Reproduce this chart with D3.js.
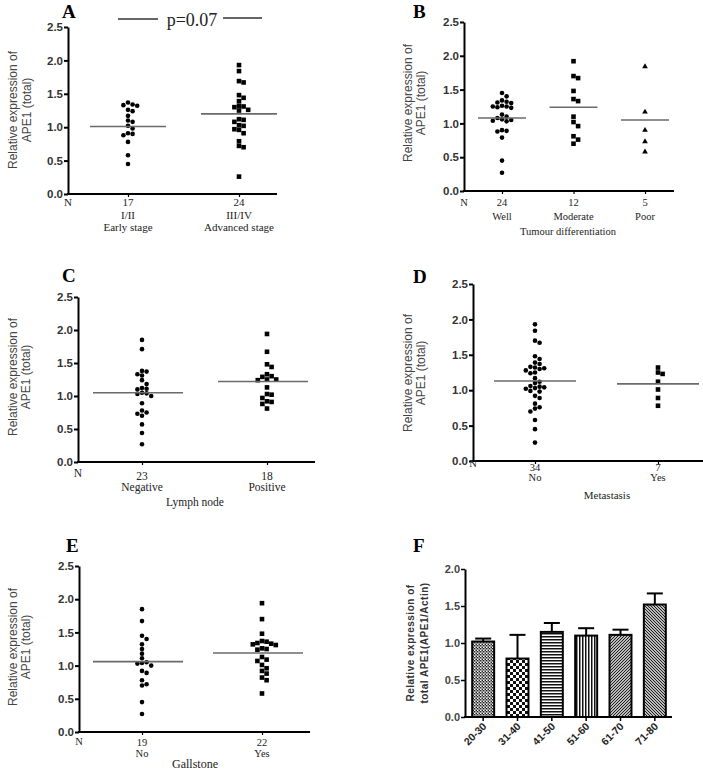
<!DOCTYPE html>
<html><head><meta charset="utf-8">
<script src="https://cdn.jsdelivr.net/npm/d3@7"></script>
<style>body{margin:0;background:#fff}</style>
</head><body><svg id="c" width="703" height="770"></svg>
<script>
// ---------- DATA ----------
const yTicks = [0, 0.5, 1.0, 1.5, 2.0, 2.5];
const fTicks = [0, 0.5, 1.0, 1.5, 2.0];

const aCategories = ["I/II", "III/IV"];
const aSublabels = ["Early stage", "Advanced stage"];
const aN = [17, 24];
const aEarly = [1.37, 1.34, 1.33, 1.32, 1.26, 1.24, 1.17, 1.10, 1.08, 1.02, 0.98, 0.91, 0.90, 0.88, 0.78, 0.58, 0.45];
const aAdvanced = [1.93, 1.84, 1.69, 1.67, 1.48, 1.44, 1.39, 1.32, 1.31, 1.30, 1.26, 1.25, 1.12, 1.11, 1.08, 1.03, 1.02, 0.97, 0.96, 0.91, 0.79, 0.72, 0.70, 0.26];
const aMeans = [1.01, 1.20];
const aPText = "p=0.07";

const bCategories = ["Well", "Moderate", "Poor"];
const bN = [24, 12, 5];
const bWell = [1.45, 1.40, 1.34, 1.32, 1.31, 1.30, 1.26, 1.25, 1.25, 1.24, 1.23, 1.13, 1.10, 1.08, 1.06, 1.05, 1.04, 1.03, 0.90, 0.89, 0.88, 0.79, 0.45, 0.27];
const bModerate = [1.92, 1.70, 1.67, 1.48, 1.36, 1.33, 1.10, 1.02, 0.96, 0.81, 0.76, 0.70];
const bPoor = [1.84, 1.17, 0.90, 0.73, 0.58];
const bMeans = [1.08, 1.24, 1.05];

const cCategories = ["Negative", "Positive"];
const cN = [23, 18];
const cNegative = [1.85, 1.71, 1.38, 1.37, 1.33, 1.31, 1.24, 1.18, 1.12, 1.11, 1.10, 1.05, 1.04, 1.03, 1.00, 0.89, 0.78, 0.75, 0.73, 0.70, 0.57, 0.44, 0.27];
const cPositive = [1.94, 1.67, 1.48, 1.44, 1.33, 1.30, 1.29, 1.25, 1.25, 1.24, 1.13, 1.03, 1.02, 0.97, 0.92, 0.91, 0.88, 0.81];
const cMeans = [1.05, 1.22];

const dCategories = ["No", "Yes"];
const dN = [34, 7];
const dNo = [1.93, 1.84, 1.70, 1.67, 1.48, 1.44, 1.39, 1.37, 1.33, 1.32, 1.31, 1.30, 1.28, 1.25, 1.24, 1.17, 1.12, 1.10, 1.06, 1.05, 1.04, 1.03, 1.02, 0.99, 0.98, 0.92, 0.89, 0.81, 0.76, 0.74, 0.70, 0.58, 0.45, 0.26];
const dYes = [1.32, 1.25, 1.23, 1.12, 1.01, 0.89, 0.78];
const dMeans = [1.13, 1.09];

const eCategories = ["No", "Yes"];
const eN = [19, 22];
const eNo = [1.85, 1.67, 1.45, 1.40, 1.32, 1.25, 1.18, 1.11, 1.05, 1.04, 1.03, 1.00, 0.92, 0.89, 0.78, 0.72, 0.70, 0.45, 0.27];
const eYes = [1.94, 1.70, 1.48, 1.37, 1.36, 1.34, 1.33, 1.32, 1.31, 1.26, 1.25, 1.24, 1.13, 1.09, 1.07, 1.01, 0.96, 0.92, 0.88, 0.82, 0.78, 0.58];
const eMeans = [1.06, 1.19];

const fCategories = ["20-30", "31-40", "41-50", "51-60", "61-70", "71-80"];
const fMeans = [1.02, 0.79, 1.15, 1.10, 1.11, 1.52];
const fErrors = [0.04, 0.32, 0.12, 0.10, 0.07, 0.15];

// ---------- RENDER ----------
const SANS = "'Liberation Sans', Arial, sans-serif";
const SERIF = "'Liberation Serif', 'Times New Roman', serif";
const svg = d3.select("#c");

function yTitle(g, lines, x1, x2, cy, opts) {
  [x1, x2].forEach((x, i) => {
    g.append("text")
      .attr("transform", `translate(${x},${cy}) rotate(-90)`)
      .attr("text-anchor", "middle").attr("dominant-baseline", "central")
      .attr("font-family", SANS).attr("font-size", opts.size)
      .attr("font-weight", opts.weight || "normal")
      .attr("letter-spacing", opts.ls || 0)
      .attr("fill", opts.color || "#444")
      .text(lines[i]);
  });
}

function marker(g, shape, cx, cy) {
  if (shape === "circle") {
    g.append("circle").attr("cx", cx).attr("cy", cy).attr("r", 2.3).attr("fill", "#000");
  } else if (shape === "square") {
    g.append("rect").attr("x", cx - 2.3).attr("y", cy - 2.3).attr("width", 4.6).attr("height", 4.6).attr("fill", "#000");
  } else {
    g.append("path").attr("d", d3.symbol(d3.symbolTriangle, 14)()).attr("transform", `translate(${cx},${cy})`).attr("fill", "#000");
  }
}

function swarm(values, y, step) {
  const placed = [];
  const sorted = values.map((v, i) => ({ v, i })).sort((a, b) => b.v - a.v);
  sorted.forEach(d => {
    const py = y(d.v);
    for (let k = 0; k < 40; k++) {
      const off = k === 0 ? 0 : (k % 2 ? 1 : -1) * Math.ceil(k / 2) * step;
      const ok = placed.every(p => Math.hypot(p.dx - off, p.py - py) >= step * 0.98);
      if (ok) { placed.push({ v: d.v, dx: off, py }); break; }
    }
  });
  return placed;
}

function scatterPanel(p) {
  const g = svg.append("g");
  const y = d3.scaleLinear().domain([0, 2.5]).range([p.yBot, p.yTop]);
  const x = d3.scalePoint().domain(p.categories).range(p.catRange);

  // panel letter
  g.append("text").attr("x", p.letter[0]).attr("y", p.letter[1])
    .attr("font-family", SERIF).attr("font-weight", "bold").attr("font-size", 19).text(p.name);

  // y axis
  const ay = g.append("g").attr("transform", `translate(${p.x0},0)`)
    .call(d3.axisLeft(y).tickValues(yTicks).tickFormat(d3.format(".1f")).tickSize(4).tickSizeOuter(0));
  ay.select(".domain").attr("stroke", "#000").attr("stroke-width", 2);
  ay.selectAll(".tick line").attr("stroke", "#000").attr("stroke-width", 2);
  ay.selectAll(".tick text").attr("font-family", SANS).attr("font-weight", "bold")
    .attr("font-size", 11.5).attr("fill", "#333").attr("x", -5);

  // x axis line
  g.append("line").attr("x1", p.x0 - 1).attr("x2", p.x1).attr("y1", y(0)).attr("y2", y(0))
    .attr("stroke", "#000").attr("stroke-width", 2);
  const axb = g.append("g").attr("transform", `translate(0,${y(0)})`)
    .call(d3.axisBottom(x).tickSize(3).tickFormat(""));
  axb.select(".domain").remove();
  axb.selectAll(".tick line").attr("stroke", "#000").attr("stroke-width", 1.2);

  yTitle(g, ["Relative expression of", "APE1 (total)"], p.yt[0], p.yt[1], p.yt[2], { size: 12 });

  // N label + counts + category labels
  const tf = (sel, size) => sel.attr("font-family", SERIF).attr("font-size", size).attr("fill", "#222").attr("text-anchor", "middle");
  tf(g.append("text").attr("x", p.x0).attr("y", p.rows.n), p.fs).text("N");
  p.categories.forEach((c, i) => {
    tf(g.append("text").attr("x", x(c)).attr("y", p.rows.count), p.fs).text(p.counts[i]);
    tf(g.append("text").attr("x", x(c)).attr("y", p.rows.cat), p.fs).text(c);
    if (p.sublabels) tf(g.append("text").attr("x", x(c)).attr("y", p.rows.sub), p.fs).text(p.sublabels[i]);
  });
  if (p.title) tf(g.append("text").attr("x", p.title.x).attr("y", p.title.y), p.title.size).text(p.title.text);

  // dots
  p.series.forEach((vals, i) => {
    const cx = x(p.categories[i]);
    swarm(vals, y, 4.6).forEach(d => marker(g, p.shapes[i], cx + d.dx, d.py));
  });
  // means
  p.means.forEach((m, i) => {
    const cx = x(p.categories[i]) + (p.meanShift || 0);
    g.append("line").attr("x1", cx - p.hw).attr("x2", cx + p.hw).attr("y1", y(m)).attr("y2", y(m))
      .attr("stroke", "#6a6a6a").attr("stroke-width", 1.6);
  });
  return { g, x, y };
}

// Panel A
const A = scatterPanel({
  name: "A", letter: [62, 18], x0: 68, x1: 277, yTop: 27, yBot: 194, catRange: [128, 239],
  categories: aCategories, sublabels: aSublabels, counts: aN, series: [aEarly, aAdvanced],
  shapes: ["circle", "square"], means: aMeans, hw: 38,
  yt: [13, 27, 110], rows: { n: 206, count: 206, cat: 219, sub: 231 }, fs: 11
});
// p-value annotation
A.g.append("line").attr("x1", 118).attr("x2", 158).attr("y1", 19).attr("y2", 19).attr("stroke", "#333").attr("stroke-width", 1.4);
A.g.append("line").attr("x1", 223).attr("x2", 262).attr("y1", 18).attr("y2", 18).attr("stroke", "#333").attr("stroke-width", 1.4);
A.g.append("text").attr("x", 192).attr("y", 26).attr("text-anchor", "middle")
  .attr("font-family", SERIF).attr("font-size", 18).attr("fill", "#222").text(aPText);

// Panel B
scatterPanel({
  name: "B", letter: [413, 18], x0: 464, x1: 674, yTop: 22, yBot: 191, catRange: [502, 645],
  categories: bCategories, counts: bN, series: [bWell, bModerate, bPoor],
  shapes: ["circle", "square", "triangle"], means: bMeans, hw: 24,
  yt: [408, 421, 103], rows: { n: 206, count: 206, cat: 220 }, fs: 10.5,
  title: { text: "Tumour differentiation", x: 568, y: 235, size: 10.5 }
});

// Panel C
scatterPanel({
  name: "C", letter: [62, 282], x0: 78, x1: 315, yTop: 297, yBot: 462, catRange: [142, 267],
  categories: cCategories, counts: cN, series: [cNegative, cPositive],
  shapes: ["circle", "square"], means: cMeans, hw: 45, meanShift: -4,
  yt: [13, 26, 377], rows: { n: 477, count: 480, cat: 491 }, fs: 11.5,
  title: { text: "Lymph node", x: 195, y: 506, size: 11.5 }
});

// Panel D
scatterPanel({
  name: "D", letter: [413, 283], x0: 473, x1: 703, yTop: 284, yBot: 461, catRange: [535, 658],
  categories: dCategories, counts: dN, series: [dNo, dYes],
  shapes: ["circle", "square"], means: dMeans, hw: 41,
  yt: [408, 421, 373], rows: { n: 467, count: 471, cat: 481 }, fs: 10.5,
  title: { text: "Metastasis", x: 607, y: 499, size: 11 }
});

// Panel E
scatterPanel({
  name: "E", letter: [66, 552], x0: 79, x1: 310, yTop: 566, yBot: 732, catRange: [142, 262],
  categories: eCategories, counts: eN, series: [eNo, eYes],
  shapes: ["circle", "square"], means: eMeans, hw: 45, meanShift: -4,
  yt: [13, 26, 647], rows: { n: 745, count: 746, cat: 757 }, fs: 10.5,
  title: { text: "Gallstone", x: 195, y: 768, size: 12 }
});

// Panel F
(function () {
  const g = svg.append("g");
  const defs = svg.append("defs");
  const pat = (id, w, h, draw) => {
    const p = defs.append("pattern").attr("id", id).attr("patternUnits", "userSpaceOnUse").attr("width", w).attr("height", h);
    p.append("rect").attr("width", w).attr("height", h).attr("fill", "#fff");
    draw(p);
  };
  pat("p0", 3, 3, p => { p.append("rect").attr("width", 1.5).attr("height", 1.5).attr("fill", "#222"); p.append("rect").attr("x", 1.5).attr("y", 1.5).attr("width", 1.5).attr("height", 1.5).attr("fill", "#222"); p.append("rect").attr("x", 1.5).attr("width", 1.5).attr("height", 1.5).attr("fill", "#999"); });
  pat("p1", 6, 6, p => { p.append("rect").attr("width", 3).attr("height", 3).attr("fill", "#111"); p.append("rect").attr("x", 3).attr("y", 3).attr("width", 3).attr("height", 3).attr("fill", "#111"); });
  pat("p2", 3, 3, p => { p.append("rect").attr("width", 3).attr("height", 1.5).attr("fill", "#111"); });
  pat("p3", 3, 3, p => { p.append("rect").attr("width", 1.5).attr("height", 3).attr("fill", "#111"); });
  pat("p4", 3, 3, p => { p.append("path").attr("d", "M-1,1 l2,-2 M0,3 l3,-3 M2,4 l2,-2").attr("stroke", "#111").attr("stroke-width", 1.1); });
  pat("p5", 3, 3, p => { p.append("path").attr("d", "M-1,2 l2,2 M0,0 l3,3 M2,-1 l2,2").attr("stroke", "#111").attr("stroke-width", 1.1); });

  const y = d3.scaleLinear().domain([0, 2.0]).range([717, 569]);
  const x = d3.scaleBand().domain(fCategories).range([466, 672]).paddingInner(0.36).paddingOuter(0.18);

  g.append("text").attr("x", 413).attr("y", 552).attr("font-family", SERIF).attr("font-weight", "bold").attr("font-size", 19).text("F");

  // error bars
  fCategories.forEach((c, i) => {
    const cx = x(c) + x.bandwidth() / 2;
    g.append("line").attr("x1", cx).attr("x2", cx).attr("y1", y(fMeans[i])).attr("y2", y(fMeans[i] + fErrors[i])).attr("stroke", "#000").attr("stroke-width", 2);
    g.append("line").attr("x1", cx - 8).attr("x2", cx + 8).attr("y1", y(fMeans[i] + fErrors[i])).attr("y2", y(fMeans[i] + fErrors[i])).attr("stroke", "#000").attr("stroke-width", 2);
  });
  // bars
  g.selectAll("rect.bar").data(fCategories).join("rect").attr("class", "bar")
    .attr("x", d => x(d)).attr("width", x.bandwidth())
    .attr("y", (d, i) => y(fMeans[i])).attr("height", (d, i) => y(0) - y(fMeans[i]))
    .attr("fill", (d, i) => `url(#p${i})`).attr("stroke", "#000").attr("stroke-width", 2);

  const ay = g.append("g").attr("transform", "translate(465,0)")
    .call(d3.axisLeft(y).tickValues(fTicks).tickFormat(d3.format(".1f")).tickSize(4).tickSizeOuter(0));
  ay.select(".domain").attr("stroke", "#000").attr("stroke-width", 2);
  ay.selectAll(".tick line").attr("stroke", "#000").attr("stroke-width", 1.5);
  ay.selectAll(".tick text").attr("font-family", SANS).attr("font-weight", "bold").attr("font-size", 11).attr("fill", "#444").attr("x", -5);

  const ax = g.append("g").attr("transform", "translate(0,717)")
    .call(d3.axisBottom(x).tickSize(4).tickSizeOuter(0));
  ax.select(".domain").attr("stroke", "#000").attr("stroke-width", 2).attr("d", "M464,0H672");
  ax.selectAll(".tick line").attr("stroke", "#000").attr("stroke-width", 1.5);
  ax.selectAll(".tick text").attr("font-family", SANS).attr("font-weight", "bold").attr("font-size", 10.5).attr("fill", "#222")
    .attr("text-anchor", "end").attr("dy", 0).attr("y", 0)
    .attr("transform", "translate(4,10) rotate(-45)");

  yTitle(g, ["Relative expression of", "total APE1(APE1/Actin)"], 410, 424, 643, { size: 10, weight: "bold", ls: 0.5, color: "#333" });
})();
</script>
</body></html>
